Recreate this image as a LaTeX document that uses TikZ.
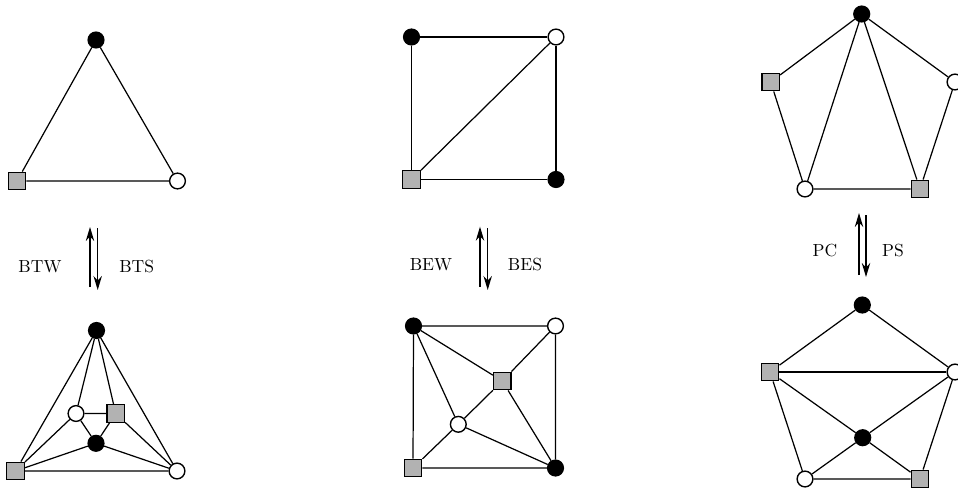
\documentclass[tikz,border=0pt]{standalone}
\usepackage{tikz}
\usetikzlibrary{arrows.meta}
\tikzset{BLACK/.style={circle,draw,thick,fill=black,inner sep=0pt,minimum size=9pt}}
\tikzset{WHITE/.style={circle,draw,thick,fill=white,inner sep=0pt,minimum size=9pt}}
\tikzset{GREY/.style={rectangle,draw,thick,fill=black!30,inner sep=0pt,minimum size=10pt}}
\tikzset{EDGE/.style={line width=0.7pt}}
\tikzset{ARROW/.style={line width=0.7pt, -{Stealth[length=8pt,width=4.8pt]}}}
\begin{document}
\begin{tikzpicture}[x=0.5714pt,y=-0.5714pt]
\useasboundingbox (0,0) rectangle (958,489);

% triangle, before
\node[BLACK] (n_t1_a) at (96,40) {};
\node[GREY]  (n_t1_b) at (17,181) {};
\node[WHITE] (n_t1_c) at (177.5,181) {};
\draw[EDGE] (n_t1_a) -- (n_t1_b) -- (n_t1_c) -- (n_t1_a);

% triangle, after
\node[BLACK] (n_t2_a) at (96.5,330.5) {};
\node[GREY]  (n_t2_b) at (15.5,471) {};
\node[WHITE] (n_t2_c) at (177,471) {};
\node[WHITE] (n_t2_d) at (76,413.5) {};
\node[GREY]  (n_t2_e) at (115.7,413.5) {};
\node[BLACK] (n_t2_f) at (96,443.3) {};
\draw[EDGE] (n_t2_a) -- (n_t2_b) -- (n_t2_c) -- (n_t2_a);
\draw[EDGE] (n_t2_a) -- (n_t2_d) -- (n_t2_e) -- (n_t2_a);
\draw[EDGE] (n_t2_d) -- (n_t2_f) -- (n_t2_e);
\draw[EDGE] (n_t2_b) -- (n_t2_d);
\draw[EDGE] (n_t2_b) -- (n_t2_f) -- (n_t2_c) -- (n_t2_e);

\coordinate (c_tw_lo) at (90,287);
\coordinate (c_tw_hi) at (90,227);
\coordinate (c_ts_hi) at (97.7,228);
\coordinate (c_ts_lo) at (97.7,290);
\draw[ARROW] (c_tw_lo) -- (c_tw_hi);
\draw[ARROW] (c_ts_hi) -- (c_ts_lo);
\node (n_btw) at (40,266.5) {BTW};
\node (n_bts) at (136.7,266.5) {BTS};

% square, before
\node[BLACK] (n_s1_a) at (411.5,37) {};
\node[WHITE] (n_s1_b) at (556,37) {};
\node[GREY]  (n_s1_c) at (411.5,179.5) {};
\node[BLACK] (n_s1_d) at (556,179.5) {};
\draw[EDGE] (n_s1_a) -- (n_s1_b) -- (n_s1_d) -- (n_s1_c) -- (n_s1_a);
\draw[EDGE] (n_s1_c) -- (n_s1_b);

% square, after
\node[BLACK] (n_s2_a) at (413.5,326) {};
\node[WHITE] (n_s2_b) at (555.5,326) {};
\node[GREY]  (n_s2_c) at (502.3,381) {};
\node[WHITE] (n_s2_d) at (458.3,424.3) {};
\node[GREY]  (n_s2_e) at (413,468) {};
\node[BLACK] (n_s2_f) at (555.5,468) {};
\draw[EDGE] (n_s2_a) -- (n_s2_b) -- (n_s2_f) -- (n_s2_e) -- (n_s2_a);
\draw[EDGE] (n_s2_a) -- (n_s2_c) -- (n_s2_b);
\draw[EDGE] (n_s2_c) -- (n_s2_f);
\draw[EDGE] (n_s2_c) -- (n_s2_d);
\draw[EDGE] (n_s2_a) -- (n_s2_d) -- (n_s2_e);
\draw[EDGE] (n_s2_d) -- (n_s2_f);

\coordinate (c_ew_lo) at (480,286.7);
\coordinate (c_ew_hi) at (480,226.7);
\coordinate (c_es_hi) at (487.7,228);
\coordinate (c_es_lo) at (487.7,290);
\draw[ARROW] (c_ew_lo) -- (c_ew_hi);
\draw[ARROW] (c_es_hi) -- (c_es_lo);
\node (n_bew) at (431,265) {BEW};
\node (n_bes) at (525,265) {BES};

% pentagon, before
\node[BLACK] (n_p1_a) at (861.7,14) {};
\node[GREY]  (n_p1_b) at (770.7,82) {};
\node[WHITE] (n_p1_c) at (955,82) {};
\node[WHITE] (n_p1_d) at (805,189) {};
\node[GREY]  (n_p1_e) at (920,189) {};
\draw[EDGE] (n_p1_a) -- (n_p1_b) -- (n_p1_d) -- (n_p1_e) -- (n_p1_c) -- (n_p1_a);
\draw[EDGE] (n_p1_d) -- (n_p1_a) -- (n_p1_e);

% pentagon, after
\node[BLACK] (n_p2_a) at (862.3,305) {};
\node[GREY]  (n_p2_b) at (770,372) {};
\node[WHITE] (n_p2_c) at (955,372) {};
\node[BLACK] (n_p2_d) at (862.7,437.7) {};
\node[WHITE] (n_p2_e) at (805,479) {};
\node[GREY]  (n_p2_f) at (920,479) {};
\draw[EDGE] (n_p2_a) -- (n_p2_b) -- (n_p2_e) -- (n_p2_f) -- (n_p2_c) -- (n_p2_a);
\draw[EDGE] (n_p2_b) -- (n_p2_c);
\draw[EDGE] (n_p2_b) -- (n_p2_d) -- (n_p2_c);
\draw[EDGE] (n_p2_e) -- (n_p2_d) -- (n_p2_f);

\coordinate (c_pc_lo) at (859,275);
\coordinate (c_pc_hi) at (859,213);
\coordinate (c_ps_hi) at (866,215);
\coordinate (c_ps_lo) at (866,277);
\draw[ARROW] (c_pc_lo) -- (c_pc_hi);
\draw[ARROW] (c_ps_hi) -- (c_ps_lo);
\node (n_pc) at (825,251) {PC};
\node (n_ps) at (893,251) {PS};

\end{tikzpicture}
\end{document}
